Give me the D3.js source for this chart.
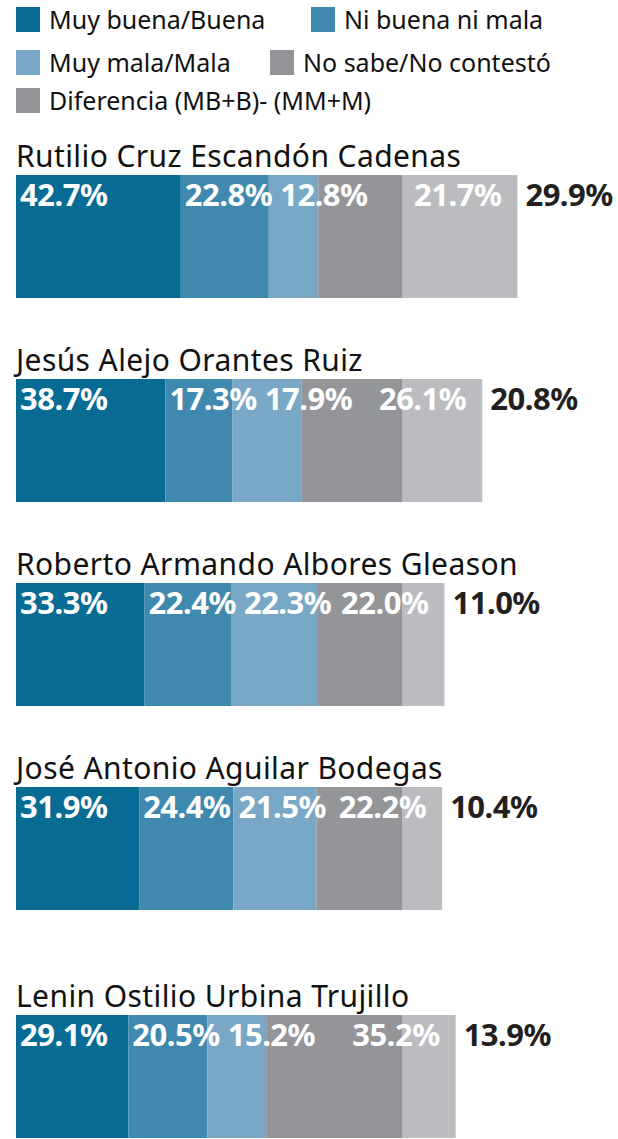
<!DOCTYPE html>
<html>
<head>
<meta charset="utf-8">
<script src="https://cdn.jsdelivr.net/npm/d3@7"></script>
<style>
  body { margin: 0; background: #fff; }
  svg { display: block; }
</style>
</head>
<body>
<svg id="chart" width="618" height="1139"></svg>
<script>
var names = ["Rutilio Cruz Escandón Cadenas", "Jesús Alejo Orantes Ruiz", "Roberto Armando Albores Gleason", "José Antonio Aguilar Bodegas", "Lenin Ostilio Urbina Trujillo"]
var muyBuena = [42.7, 38.7, 33.3, 31.9, 29.1]
var niBuena = [22.8, 17.3, 22.4, 24.4, 20.5]
var muyMala = [12.8, 17.9, 22.3, 21.5, 15.2]
var noSabe = [21.7, 26.1, 22.0, 22.2, 35.2]
var diferencia = [29.9, 20.8, 11.0, 10.4, 13.9]
var legendLabels = ["Muy buena/Buena", "Ni buena ni mala", "Muy mala/Mala", "No sabe/No contestó", "Diferencia (MB+B)- (MM+M)"]

var colors = ["#076b93", "#3f88ae", "#79a8c7", "#949599", "#bbbcc0"]
var legendColors = ["#076b93", "#3f88ae", "#79a8c7", "#949599", "#949599"]

var svg = d3.select("svg#chart")
var width = 618
var margin = {left: 16}
var barHeight = 123
var font = "'Noto Sans', sans-serif"

var x = d3.scaleLinear()
    .domain([0, 100])
    .range([margin.left, 402])

// rows: even spacing, last one sits a bit lower
var rowTop = d3.scaleLinear()
    .domain([0, 3, 4])
    .range([175, 787, 1015])

// legend
var legendPos = [[16, 20], [311, 20], [16, 63], [270, 63], [16, 101]]
var legend = svg.append("g")
  .selectAll("g")
  .data(legendLabels)
  .enter()
  .append("g")
    .attr("transform", (d, i) => `translate(${legendPos[i][0]},${legendPos[i][1]})`)
legend.append("rect")
    .attr("y", -13)
    .attr("width", 24)
    .attr("height", 25)
    .attr("fill", (d, i) => legendColors[i])
legend.append("text")
    .attr("x", 33)
    .attr("y", 9)
    .style("font", "25px " + font)
    .attr("fill", "#111")
    .text(d => d)

var rows = names.map((n, i) => ({
  name: n,
  values: [muyBuena[i], niBuena[i], muyMala[i], noSabe[i], diferencia[i]]
}))

var row = svg.append("g")
  .selectAll("g")
  .data(rows)
  .enter()
  .append("g")
    .attr("transform", (d, i) => `translate(0,${rowTop(i)})`)

row.append("text")
    .attr("x", margin.left)
    .attr("y", -8)
    .style("font", "30px " + font)
    .style("letter-spacing", "0.4px")
    .attr("fill", "#111")
    .text(d => d.name)

row.each(function(d) {
  var g = d3.select(this)
  var cum = 0
  var segs = d.values.map(v => {
    var s = {v: v, x0: cum, x1: cum + v}
    cum += v
    return s
  })
  g.selectAll("rect")
    .data(segs)
    .enter()
    .append("rect")
      .attr("x", s => x(s.x0))
      .attr("width", s => x(s.x1) - x(s.x0))
      .attr("height", barHeight)
      .attr("fill", (s, i) => colors[i])

  // value labels: left of segment, pushed right to avoid overlap
  var prevEnd = -Infinity
  segs.slice(0, 4).forEach((s, i) => {
    var t = g.append("text")
        .attr("y", 31)
        .style("font", "bold 31px " + font)
        .style("letter-spacing", "-0.5px")
        .attr("fill", "#fff")
        .text(s.v.toFixed(1) + "%")
    var w = t.node().getComputedTextLength()
    var lx = i < 3 ? Math.max(x(s.x0) + 4, prevEnd + 8)
                   : Math.max(x(segs[4].x1) - 16 - w, prevEnd + 8)
    t.attr("x", lx)
    prevEnd = lx + w
  })
  var last = segs[4]
  g.append("text")
      .attr("x", x(last.x1) + 8)
      .attr("y", 31)
      .style("font", "bold 31px " + font)
      .style("letter-spacing", "-0.5px")
      .attr("fill", "#231f20")
      .text(last.v.toFixed(1) + "%")
})
</script>
</body>
</html>
